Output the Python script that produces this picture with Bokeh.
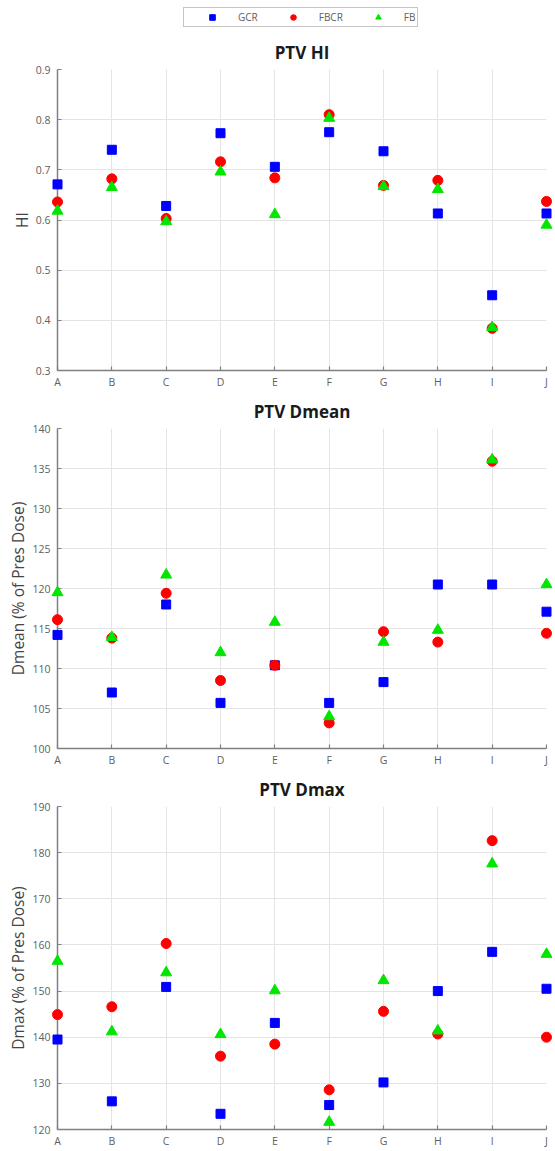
from bokeh.plotting import figure
from bokeh.models import Range1d, FixedTicker, Legend, LegendItem
from bokeh.layouts import column
from bokeh.embed import file_html
from bokeh.resources import INLINE

categories = ["A", "B", "C", "D", "E", "F", "G", "H", "I", "J"]
series_names = ["GCR", "FBCR", "FB"]

hi_gcr = [0.671, 0.740, 0.628, 0.773, 0.706, 0.775, 0.737, 0.613, 0.450, 0.613]
hi_fbcr = [0.636, 0.682, 0.603, 0.716, 0.684, 0.810, 0.669, 0.679, 0.384, 0.637]
hi_fb = [0.618, 0.665, 0.597, 0.696, 0.611, 0.803, 0.667, 0.661, 0.386, 0.590]

dmean_gcr = [114.2, 107.0, 118.0, 105.7, 110.4, 105.7, 108.3, 120.5, 120.5, 117.1]
dmean_fbcr = [116.1, 113.8, 119.4, 108.5, 110.4, 103.2, 114.6, 113.3, 135.9, 114.4]
dmean_fb = [119.5, 113.9, 121.7, 112.0, 115.8, 104.0, 113.3, 114.8, 136.1, 120.5]

dmax_gcr = [139.5, 126.1, 150.9, 123.4, 143.1, 125.3, 130.2, 150.0, 158.5, 150.5]
dmax_fbcr = [144.9, 146.6, 160.3, 135.9, 138.5, 128.6, 145.6, 140.7, 182.6, 140.0]
dmax_fb = [156.5, 141.2, 154.0, 140.6, 150.1, 121.6, 152.3, 141.4, 177.6, 158.0]

hi_ticks = [0.3, 0.4, 0.5, 0.6, 0.7, 0.8, 0.9]
dmean_ticks = [100, 105, 110, 115, 120, 125, 130, 135, 140]
dmax_ticks = [120, 130, 140, 150, 160, 170, 180, 190]

FONT = "Open Sans"
AXIS_COLOR = "#808080"
GRID_COLOR = "#e4e4e4"
LABEL_COLOR = "#606060"
MARKERS = [("square", "#0000ff", 9), ("circle", "#ff0000", 10), ("triangle", "#00e600", 11)]

xs = list(range(len(categories)))
W = 555
LEFT = 57
RIGHT = 9


def make_panel(title, ylabel, series, ticks, height, top, bottom):
    p = figure(width=W, height=height,
               x_range=Range1d(0, len(categories) - 1),
               y_range=Range1d(ticks[0], ticks[-1]),
               output_backend="svg", toolbar_location=None,
               min_border_left=LEFT, min_border_right=RIGHT,
               min_border_top=top, min_border_bottom=bottom,
               title=title)
    p.title.text_font = FONT
    p.title.text_font_size = "17px"
    p.title.text_font_style = "bold"
    p.title.align = "center"
    p.title.text_color = "#1a1a1a"
    p.title.standoff = 11
    p.outline_line_color = None
    p.background_fill_color = "white"
    p.border_fill_color = "white"

    p.xaxis.ticker = FixedTicker(ticks=xs)
    p.xaxis.major_label_overrides = {i: c for i, c in enumerate(categories)}
    p.yaxis.ticker = FixedTicker(ticks=ticks)
    p.yaxis.axis_label = ylabel

    for ax in (p.xaxis, p.yaxis):
        ax.axis_line_color = AXIS_COLOR
        ax.axis_line_width = 1.5
        ax.major_tick_line_color = AXIS_COLOR
        ax.major_tick_line_width = 1.2
        ax.major_tick_in = 4
        ax.major_tick_out = 0
        ax.minor_tick_line_color = None
        ax.major_label_text_font = FONT
        ax.major_label_text_font_size = "10.5px"
        ax.major_label_text_color = LABEL_COLOR
        ax.axis_label_text_font = FONT
        ax.axis_label_text_font_size = "15.5px"
        ax.axis_label_text_font_style = "normal"
        ax.axis_label_text_color = "#444444"
    p.xaxis.major_label_standoff = 4
    p.yaxis.major_label_standoff = 7
    p.yaxis.axis_label_standoff = 0

    p.xgrid.ticker = FixedTicker(ticks=xs)
    p.ygrid.ticker = FixedTicker(ticks=ticks)
    p.grid.grid_line_color = GRID_COLOR
    p.grid.grid_line_width = 1

    for (marker, color, size), ys in zip(MARKERS, series):
        p.scatter(xs, ys, marker=marker, size=size, fill_color=color,
                  line_color=color, level="overlay")
    return p


# legend strip (no axes; glyphs of the legend renderers lie outside its ranges)
lg = figure(width=W, height=27, x_range=Range1d(0, 1), y_range=Range1d(0, 1),
            output_backend="svg", toolbar_location=None,
            x_axis_location=None, y_axis_location=None,
            min_border_left=LEFT, min_border_right=RIGHT,
            min_border_top=0, min_border_bottom=0)
lg.grid.visible = False
lg.outline_line_color = None
items = []
for (marker, color, size), name in zip(MARKERS, series_names):
    r = lg.scatter([5], [5], marker=marker, size=size, fill_color=color, line_color=color)
    items.append(LegendItem(label=name, renderers=[r]))
legend = Legend(items=items, orientation="horizontal", location=(183 - LEFT, 0),
                glyph_width=52, glyph_height=14, label_standoff=0, spacing=9,
                padding=2, margin=0, label_width=0, label_height=14,
                label_text_font=FONT, label_text_font_size="10px",
                label_text_color=LABEL_COLOR,
                border_line_color="#8c8c8c", border_line_width=1.5,
                background_fill_color="white")
lg.add_layout(legend, "center")

p1 = make_panel("PTV HI", "HI", [hi_gcr, hi_fbcr, hi_fb], hi_ticks, 365, 42, 22)
p2 = make_panel("PTV Dmean", "Dmean (% of Pres Dose)", [dmean_gcr, dmean_fbcr, dmean_fb],
                dmean_ticks, 378, 36, 22)
p3 = make_panel("PTV Dmax", "Dmax (% of Pres Dose)", [dmax_gcr, dmax_fbcr, dmax_fb],
                dmax_ticks, 380, 35, 21)

layout = column(lg, p1, p2, p3, spacing=0)
open("out.html", "w").write(file_html(layout, INLINE))
